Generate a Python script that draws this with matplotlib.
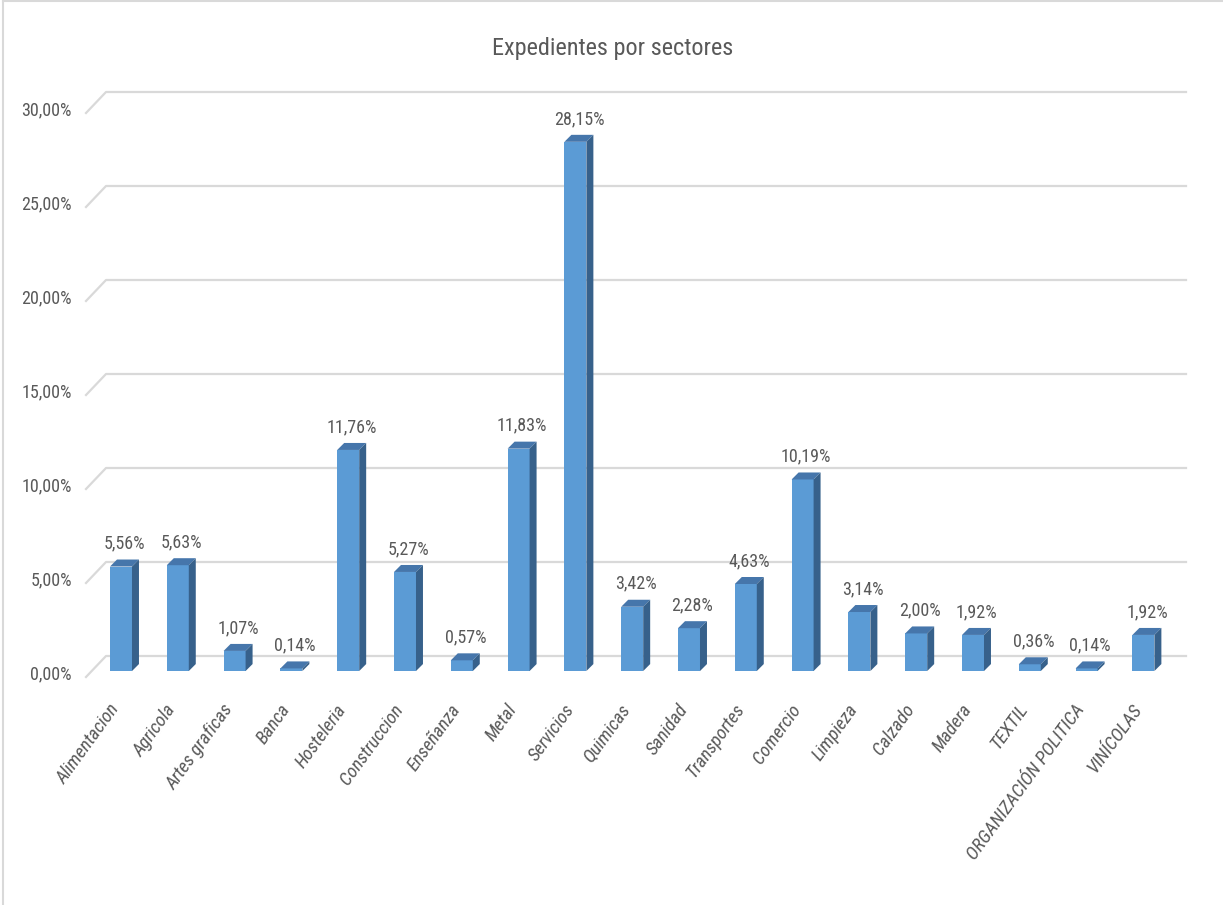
import matplotlib
matplotlib.use("Agg")
import matplotlib.pyplot as plt
from matplotlib.patches import Polygon
from matplotlib.lines import Line2D
from matplotlib.transforms import ScaledTranslation

categories = ["Alimentacion", "Agricola", "Artes graficas", "Banca", "Hosteleria",
              "Construccion", "Enseñanza", "Metal", "Servicios", "Quimicas", "Sanidad",
              "Transportes", "Comercio", "Limpieza", "Calzado", "Madera", "TEXTIL",
              "ORGANIZACIÓN POLITICA", "VINÍCOLAS"]
values = [5.56, 5.63, 1.07, 0.14, 11.76, 5.27, 0.57, 11.83, 28.15, 3.42, 2.28,
          4.63, 10.19, 3.14, 2.00, 1.92, 0.36, 0.14, 1.92]
yticks = [0, 5, 10, 15, 20, 25, 30]
title = "Expedientes por sectores"

FONT = ["Roboto Condensed", "Carlito", "DejaVu Sans"]
plt.rcParams["font.family"] = FONT
TXT = "#595959"
FRONT = "#5b9bd5"
TOP = "#4676ab"
SIDE = "#37618b"
GRID = "#d9d9d9"

W, H = 1223, 905
fig = plt.figure(figsize=(W / 100, H / 100), dpi=100)

# plot area (back wall) in pixels
px_l, px_r, px_t, px_b = 106, 1186, 92, 677
ax = fig.add_axes([px_l / W, 1 - px_b / H, (px_r - px_l) / W, (px_b - px_t) / H])
xl, xr = -0.264, 18.75
yb, yt = -1.117, 30
ax.set_xlim(xl, xr)
ax.set_ylim(yb, yt)
for s in ax.spines.values():
    s.set_visible(False)
ax.set_yticks([])

# perspective parameters (data units)
x_front_edge = -0.616
floor_drop = 1.117
base = -0.8
bw = 0.387
ddx, ddy = 0.123, 0.372

# gridlines (back wall + side diagonal)
for v in yticks:
    ax.add_line(Line2D([x_front_edge, xl, xr], [v - floor_drop, v, v],
                       color=GRID, lw=1.6, clip_on=False, zorder=0))
    ax.text(-0.863, v - 1.0, f"{v:.2f}".replace(".", ",") + "%", ha="right", va="center",
            fontsize=13, color=TXT, clip_on=False)

xs = list(range(len(categories)))
ax.bar(xs, values, bottom=base, width=bw, color=FRONT, zorder=3, linewidth=0)
for x, v in zip(xs, values):
    top = base + v
    x0, x1 = x - bw / 2, x + bw / 2
    ax.add_patch(Polygon([(x0, top), (x1, top), (x1 + ddx, top + ddy), (x0 + ddx, top + ddy)],
                         closed=True, facecolor=TOP, edgecolor="none", zorder=4))
    ax.add_patch(Polygon([(x1, base), (x1, top), (x1 + ddx, top + ddy), (x1 + ddx, base + ddy)],
                         closed=True, facecolor=SIDE, edgecolor="none", zorder=4))
    ax.annotate(f"{v:.2f}".replace(".", ",") + "%", (x + ddx / 2, top + ddy),
                xytext=(0, 5), textcoords="offset points", ha="center", va="bottom",
                fontsize=13, color=TXT, zorder=5)

ax.set_xticks(xs)
ax.set_xticklabels(categories, rotation=54, ha="right", va="center",
                   rotation_mode="anchor", fontsize=13.5, color=TXT, style="italic")
ax.tick_params(axis="x", length=0, pad=21)
shift = ScaledTranslation(-5 / 100, 0, fig.dpi_scale_trans)
for lab in ax.get_xticklabels():
    lab.set_transform(lab.get_transform() + shift)

fig.text(613 / W, 1 - 49 / H, title, ha="center", va="center", fontsize=17.5, color=TXT)

# chart frame (left and top edges visible)
fig.add_artist(Line2D([3 / W, 3 / W], [0, 1 - 1 / H], transform=fig.transFigure,
                      color=GRID, lw=1.5))
fig.add_artist(Line2D([3 / W, 1], [1 - 1.5 / H, 1 - 1.5 / H], transform=fig.transFigure,
                      color=GRID, lw=1.5))

fig.savefig("out.png", dpi=100, facecolor="white")
